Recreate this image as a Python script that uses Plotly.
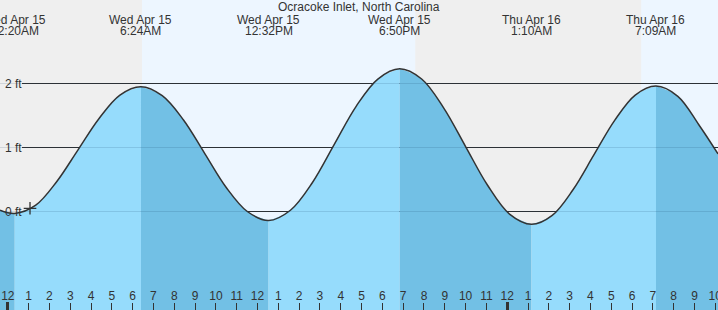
import plotly.graph_objects as go

# ---------------- data ----------------
title_text = "Ocracoke Inlet, North Carolina"

# tide curve (hours after midnight Wed Apr 15, feet)
tide_hours = [-0.375,
              0.333, 1.344, 2.356, 3.367, 4.378, 5.389,
              6.4, 7.422, 8.444, 9.467, 10.489, 11.511,
              12.533, 13.583, 14.633, 15.683, 16.733, 17.783,
              18.833, 19.889, 20.944, 22.0, 23.056, 24.111,
              25.167, 26.164, 27.161, 28.158, 29.156, 30.153,
              31.15, 32.2, 33.2, 34.13]
tide_ft = [0.02,
           -0.03, 0.10, 0.47, 0.96, 1.45, 1.82,
           1.95, 1.81, 1.43, 0.905, 0.38, 0.00,
           -0.14, 0.02, 0.45, 1.045, 1.64, 2.07,
           2.23, 2.07, 1.62, 1.015, 0.41, -0.04,
           -0.20, -0.06, 0.34, 0.88, 1.42, 1.82,
           1.96, 1.80, 1.36, 0.90]

# high / low tide events
event_hours = [0.333, 6.4, 12.533, 18.833, 25.167, 31.15]
event_days = ["Wed Apr 15", "Wed Apr 15", "Wed Apr 15", "Wed Apr 15", "Thu Apr 16", "Thu Apr 16"]
event_times = ["12:20AM", "6:24AM", "12:32PM", "6:50PM", "1:10AM", "7:09AM"]

# daylight periods (hours)
day_starts = [6.45, 30.44]
day_ends = [19.58, 40.0]

# current time marker
now_hour = 1.067
now_ft = 0.05

# axis ticks
tick_hours = list(range(0, 35))
tick_labels = [str(12 if h % 12 == 0 else h % 12) for h in tick_hours]
midnight_hours = [0, 24]
level_ft = [0, 1, 2]
level_labels = ["0 ft", "1 ft", "2 ft"]

# ---------------- style ----------------
W, H = 718, 310
X_RANGE = [-0.375, 34.13]
Y_RANGE = [-1.539, 3.305]
NIGHT = "#EFEFEF"
DAY = "#EDF6FF"
RISING = "#96DCFC"
FALLING = "#72C0E5"
INK = "#333333"
FONT = "Liberation Sans, Arial, sans-serif"
BOTTOM = -3.0

fig = go.Figure()

# fill segments between successive extremes (rising light, falling dark)
bounds = [0] + [tide_hours.index(h) for h in event_hours] + [len(tide_hours) - 1]
falling = True  # curve starts falling toward the first low
for a, b in zip(bounds[:-1], bounds[1:]):
    if b <= a:
        continue
    xs = tide_hours[a:b + 1]
    ys = tide_ft[a:b + 1]
    fig.add_trace(go.Scatter(x=[xs[0], xs[-1]], y=[BOTTOM, BOTTOM], mode="lines",
                             line=dict(width=0), hoverinfo="skip", showlegend=False))
    fig.add_trace(go.Scatter(x=xs, y=ys, mode="lines", line=dict(width=0, shape="spline"),
                             fill="tonexty", fillcolor=FALLING if falling else RISING,
                             hoverinfo="skip", showlegend=False))
    falling = not falling

# outline
fig.add_trace(go.Scatter(x=tide_hours, y=tide_ft, mode="lines",
                         line=dict(color=INK, width=1.5, shape="spline"),
                         hoverinfo="skip", showlegend=False))

# current time marker
fig.add_trace(go.Scatter(x=[now_hour], y=[now_ft], mode="markers",
                         marker=dict(symbol="cross-thin", size=9, line=dict(color=INK, width=1.3)),
                         hoverinfo="skip", showlegend=False))

# dummy trace for overlay axis (thick midnight ticks)
fig.add_trace(go.Scatter(x=midnight_hours, y=[None, None], xaxis="x2", mode="lines",
                         hoverinfo="skip", showlegend=False))

shapes = []
for s, e in zip(day_starts, day_ends):
    shapes.append(dict(type="rect", xref="x", yref="paper", x0=s, x1=e, y0=0, y1=1,
                       fillcolor=DAY, line=dict(width=0), layer="below"))
for lv in level_ft:
    shapes.append(dict(type="line", xref="paper", yref="y", x0=22 / W, x1=1, y0=lv, y1=lv,
                       line=dict(color=INK, width=1.2), layer="below"))
    shapes.append(dict(type="line", xref="paper", yref="y", x0=0, x1=1, y0=lv, y1=lv,
                       line=dict(color="rgba(0,40,80,0.13)", width=1.2), layer="above"))

ann = []
ann.append(dict(text=title_text, xref="paper", yref="paper", x=0.5, y=1 - 7 / H,
                xanchor="center", yanchor="middle", showarrow=False,
                font=dict(family=FONT, size=12, color=INK)))
for h, d, t in zip(event_hours, event_days, event_times):
    ann.append(dict(text=d, xref="x", yref="paper", x=h, y=1 - 20 / H, xanchor="center",
                    yanchor="middle", showarrow=False, font=dict(family=FONT, size=12, color=INK)))
    ann.append(dict(text=t, xref="x", yref="paper", x=h, y=1 - 31.5 / H, xanchor="center",
                    yanchor="middle", showarrow=False, font=dict(family=FONT, size=12, color=INK)))
for lv, lab in zip(level_ft, level_labels):
    ann.append(dict(text=lab, xref="paper", yref="y", x=3 / W, y=lv, xanchor="left",
                    yanchor="middle", showarrow=False, font=dict(family=FONT, size=12, color=INK)))

fig.update_layout(
    width=W, height=H, margin=dict(l=0, r=0, t=0, b=0, autoexpand=False),
    paper_bgcolor=NIGHT, plot_bgcolor=NIGHT,
    shapes=shapes, annotations=ann, showlegend=False,
    xaxis=dict(range=X_RANGE, showgrid=False, zeroline=False, showline=False,
               automargin=False,
               tickmode="array", tickvals=tick_hours, ticktext=tick_labels,
               ticks="inside", ticklen=7, tickwidth=1, tickcolor=INK,
               ticklabelposition="inside", ticklabeloverflow="allow",
               tickfont=dict(family=FONT, size=12, color=INK)),
    xaxis2=dict(range=X_RANGE, overlaying="x", anchor="y", side="bottom", showgrid=False,
                automargin=False,
                zeroline=False, showline=False, tickmode="array", tickvals=midnight_hours,
                ticks="inside", ticklen=8, tickwidth=3, tickcolor=INK, showticklabels=False),
    yaxis=dict(range=Y_RANGE, visible=False, showgrid=False, zeroline=False, automargin=False),
)

fig.write_html("out.html")
